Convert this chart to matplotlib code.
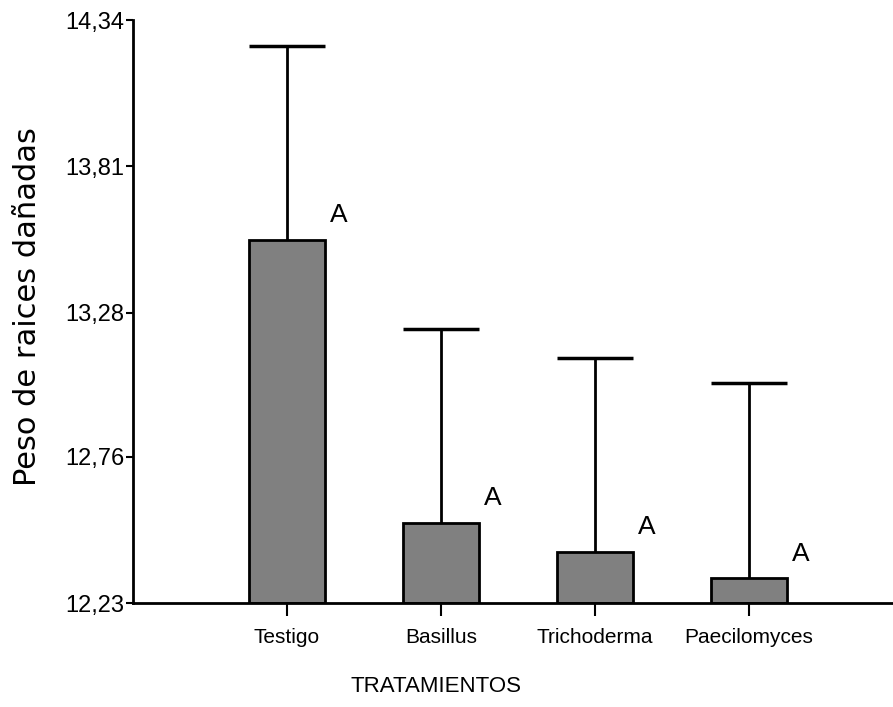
import matplotlib
matplotlib.use("Agg")
import matplotlib.pyplot as plt
import numpy as np

categories = ["Testigo", "Basillus", "Trichoderma", "Paecilomyces"]
means = [13.544, 12.52, 12.415, 12.32]
errors = [0.702, 0.702, 0.702, 0.706]
letters = ["A", "A", "A", "A"]
ytick_values = [12.23, 12.76, 13.28, 13.81, 14.34]
ytick_labels = ["12,23", "12,76", "13,28", "13,81", "14,34"]

fam = ["Liberation Sans", "DejaVu Sans"]

fig = plt.figure(figsize=(8.93, 7.07), dpi=100)
ax = fig.add_axes([133/893, 1-603/707, 760/893, 583/707])

x = np.arange(len(categories))
w = 0.49
ymin = ytick_values[0]
heights = [m - ymin for m in means]
ax.bar(x, heights, width=w, bottom=ymin, color="#808080", edgecolor="black",
       linewidth=2, zorder=2)
uppers = [m + e for m, e in zip(means, errors)]
ax.vlines(x, means, uppers, color="black", linewidth=2, zorder=1)
ax.hlines(uppers, x - w/2, x + w/2, color="black", linewidth=2.5, zorder=1)

for xi, m, lt in zip(x, means, letters):
    ax.annotate(lt, (xi + w/2, m), xytext=(10, 9), textcoords="offset points",
                ha="center", va="bottom", fontsize=19, family=fam)

ax.set_xlim(-1.0, 3.935)
ax.set_ylim(ytick_values[0], ytick_values[-1])
ax.set_yticks(ytick_values)
ax.set_yticklabels(ytick_labels, family=fam, fontsize=17)
ax.set_xticks(x)
ax.set_xticklabels(categories, family=fam, fontsize=15)
ax.tick_params(axis="y", length=5, width=1.5, pad=1)
ax.tick_params(axis="x", length=9, width=1.5, pad=9)

for s in ["top", "right"]:
    ax.spines[s].set_visible(False)
for s in ["left", "bottom"]:
    ax.spines[s].set_linewidth(2)

ax.set_ylabel("Peso de raices dañadas", fontsize=22, family="DejaVu Sans", va="center")
ax.yaxis.set_label_coords(-0.139, 0.509)
ax.set_xlabel("TRATAMIENTOS", fontsize=16, family=fam, va="center")
ax.xaxis.set_label_coords(0.399, -0.144)

fig.savefig("out.png", dpi=100)
